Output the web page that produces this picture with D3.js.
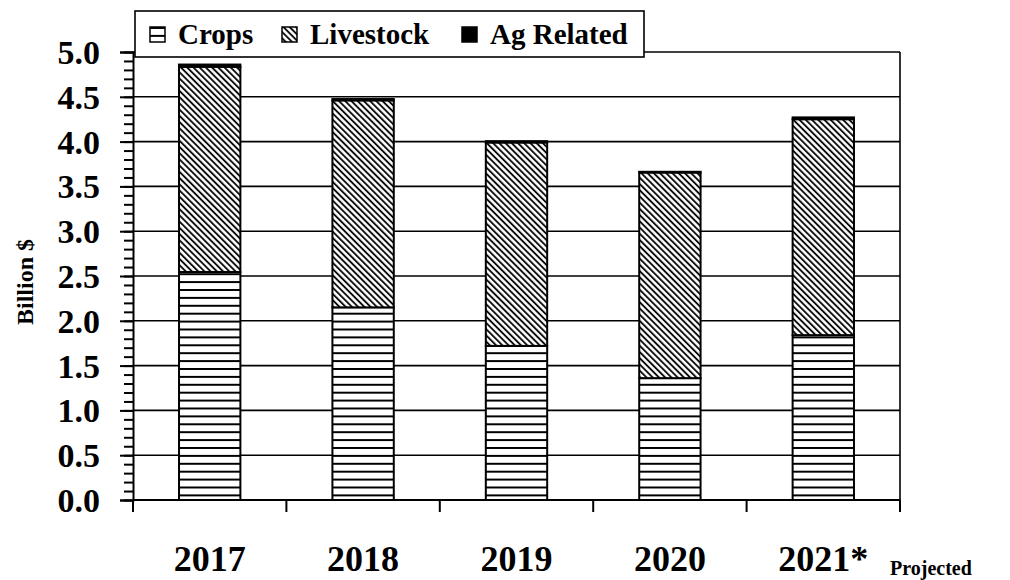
<!DOCTYPE html>
<html>
<head>
<meta charset="utf-8">
<script src="https://cdn.jsdelivr.net/npm/d3@7"></script>
<style>
  body { margin: 0; background: #fff; }
  text { font-family: "Liberation Serif", "Times New Roman", serif; font-weight: bold; fill: #000; }
</style>
</head>
<body>
<div id="chart"></div>
<script>
// data
const years = ["2017", "2018", "2019", "2020", "2021*"];
const crops = [2.545, 2.15, 1.72, 1.36, 1.84];
const livestock = [2.29, 2.31, 2.27, 2.295, 2.41];
const agRelated = [0.025, 0.015, 0.015, 0.008, 0.02];
const seriesNames = ["Crops", "Livestock", "Ag Related"];
const yTicks = [0, 0.5, 1, 1.5, 2, 2.5, 3, 3.5, 4, 4.5, 5];

// dimensions
const margin = { top: 52, right: 110, bottom: 80, left: 133 },
    width = 1010 - margin.left - margin.right,
    height = 580 - margin.top - margin.bottom;

const svg = d3.select("#chart")
    .append("svg")
    .attr("width", 1010)
    .attr("height", 580);

// patterns
const defs = svg.append("defs");
const pCrops = defs.append("pattern")
    .attr("id", "crops")
    .attr("patternUnits", "userSpaceOnUse")
    .attr("width", 8).attr("height", 7.9);
pCrops.append("rect").attr("width", 8).attr("height", 7.9).attr("fill", "#fff");
pCrops.append("line").attr("x1", 0).attr("x2", 8).attr("y1", 1).attr("y2", 1)
    .attr("stroke", "#000").attr("stroke-width", 2);

const pLive = defs.append("pattern")
    .attr("id", "livestock")
    .attr("patternUnits", "userSpaceOnUse")
    .attr("width", 4.4).attr("height", 4.4)
    .attr("patternTransform", "rotate(-45)");
pLive.append("rect").attr("width", 4.4).attr("height", 4.4).attr("fill", "#fff");
pLive.append("line").attr("x1", 1).attr("x2", 1).attr("y1", 0).attr("y2", 4.4)
    .attr("stroke", "#000").attr("stroke-width", 1.8);

const fills = ["url(#crops)", "url(#livestock)", "#000"];

const g = svg.append("g")
    .attr("transform", `translate(${margin.left},${margin.top})`);

// scales
const x = d3.scaleBand()
    .domain(years)
    .range([0, width])
    .paddingInner(0.6)
    .paddingOuter(0.3);
const xb = d3.scaleBand().domain(years).range([0, width]);

const y = d3.scaleLinear()
    .domain([0, 5])
    .range([height, 0]);

// gridlines
g.append("g")
    .selectAll("line")
    .data(yTicks.slice(1))
    .join("line")
    .attr("x1", 0).attr("x2", width)
    .attr("y1", d => y(d)).attr("y2", d => y(d))
    .attr("stroke", "#000")
    .attr("stroke-width", 1.6);

// right border
g.append("line")
    .attr("x1", width).attr("x2", width)
    .attr("y1", 0).attr("y2", height)
    .attr("stroke", "#000").attr("stroke-width", 1.6);

// stacked bars
const table = years.map((yr, i) => ({ year: yr, Crops: crops[i], Livestock: livestock[i], "Ag Related": agRelated[i] }));
const stack = d3.stack().keys(seriesNames)(table);

g.append("g")
    .selectAll("g")
    .data(stack)
    .join("g")
    .attr("fill", (d, i) => fills[i])
    .selectAll("rect")
    .data(d => d)
    .join("rect")
    .attr("x", d => x(d.data.year))
    .attr("width", x.bandwidth())
    .attr("y", d => y(d[1]))
    .attr("height", d => y(d[0]) - y(d[1]))
    .attr("stroke", "#000")
    .attr("stroke-width", 2);

// y axis with minor ticks
const yAxis = g.append("g");
yAxis.append("g")
    .call(d3.axisLeft(y).tickValues(d3.range(0, 5.01, 0.1)).tickSize(9).tickFormat(""))
    .call(a => a.select(".domain").remove())
    .selectAll("line").attr("stroke-width", 2);
yAxis.append("g")
    .call(d3.axisLeft(y).tickValues(yTicks).tickSize(13).tickPadding(20).tickFormat(d3.format(".1f")))
    .call(a => a.select(".domain").attr("stroke-width", 2))
    .call(a => a.selectAll("line").attr("stroke-width", 2))
    .call(a => a.selectAll("text")
        .style("font-family", "'Liberation Serif', serif")
        .style("font-weight", "bold")
        .style("font-size", "34px")
        .attr("dy", "0.34em"));

// x axis: ticks at category boundaries
g.append("g")
    .attr("transform", `translate(0,${height})`)
    .call(a => a.append("line").attr("x1", 0).attr("x2", width).attr("stroke", "#000").attr("stroke-width", 2))
    .selectAll("line.tk")
    .data(years.map(d => xb(d)).concat([width]))
    .join("line")
    .attr("class", "tk")
    .attr("x1", d => d).attr("x2", d => d)
    .attr("y1", 0).attr("y2", 12)
    .attr("stroke", "#000").attr("stroke-width", 2);

g.append("g")
    .selectAll("text")
    .data(years)
    .join("text")
    .attr("x", d => xb(d) + xb.bandwidth() / 2)
    .attr("y", height + 71)
    .attr("text-anchor", "middle")
    .style("font-size", "36px")
    .text(d => d);

svg.append("text")
    .attr("x", 890)
    .attr("y", 575)
    .style("font-size", "20px")
    .text("Projected");

// y label
svg.append("text")
    .attr("transform", "translate(33,282) rotate(-90)")
    .attr("text-anchor", "middle")
    .style("font-size", "24px")
    .text("Billion $");

// legend
const legend = svg.append("g");
legend.append("rect")
    .attr("x", 135).attr("y", 11)
    .attr("width", 509).attr("height", 46)
    .attr("fill", "#fff")
    .attr("stroke", "#000")
    .attr("stroke-width", 1.6);
const legX = [150, 282, 462];
const item = legend.selectAll("g.item")
    .data(seriesNames)
    .join("g")
    .attr("class", "item")
    .attr("transform", (d, i) => `translate(${legX[i]},27)`);
item.append("rect")
    .attr("width", 15).attr("height", 15)
    .attr("fill", (d, i) => fills[i])
    .attr("stroke", "#000")
    .attr("stroke-width", 1.5);
item.append("text")
    .attr("x", 28)
    .attr("y", 17)
    .style("font-size", "29px")
    .text(d => d);
</script>
</body>
</html>
